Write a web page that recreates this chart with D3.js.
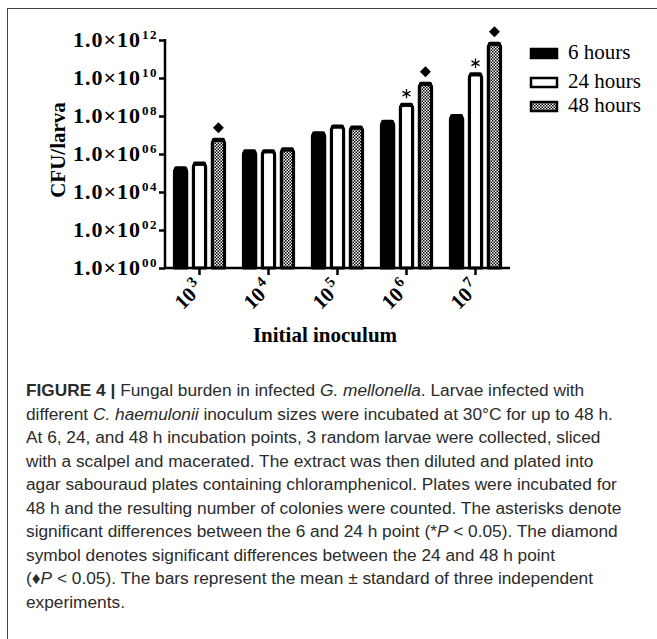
<!DOCTYPE html>
<html>
<head>
<meta charset="utf-8">
<script src="https://cdn.jsdelivr.net/npm/d3@7"></script>
<style>
  body { margin: 0; background: #fff; }
  svg { display: block; }
</style>
</head>
<body>
<script>
document.body.style.overflow = 'hidden';

// data (log10 of CFU/larva)
const inocula = ["3", "4", "5", "6", "7"];
const seriesNames = ["6 hours", "24 hours", "48 hours"];
const logCfu6h = [5.3, 6.2, 7.15, 7.75, 8.05];
const logCfu24h = [5.55, 6.2, 7.5, 8.65, 10.25];
const logCfu48h = [6.8, 6.3, 7.45, 9.75, 11.85];
const star6vs24 = [false, false, false, true, true];
const diamond24vs48 = [true, false, false, true, true];
const yTickExps = [0, 2, 4, 6, 8, 10, 12];

const captionLines = [
    [{t: "FIGURE 4 | ", b: true}, {t: "Fungal burden in infected "}, {t: "G. mellonella", i: true}, {t: ". Larvae infected with"}],
    [{t: "different "}, {t: "C. haemulonii", i: true}, {t: " inoculum sizes were incubated at 30°C for up to 48 h."}],
    [{t: "At 6, 24, and 48 h incubation points, 3 random larvae were collected, sliced"}],
    [{t: "with a scalpel and macerated. The extract was then diluted and plated into"}],
    [{t: "agar sabouraud plates containing chloramphenicol. Plates were incubated for"}],
    [{t: "48 h and the resulting number of colonies were counted. The asterisks denote"}],
    [{t: "significant differences between the 6 and 24 h point (*"}, {t: "P", i: true}, {t: " < 0.05). The diamond"}],
    [{t: "symbol denotes significant differences between the 24 and 48 h point"}],
    [{t: "(♦"}, {t: "P", i: true}, {t: " < 0.05). The bars represent the mean ± standard of three independent"}],
    [{t: "experiments."}]
];

const W = 657, H = 639;
const plot = {left: 165, right: 510, top: 40, bottom: 268};
const serif = '"Liberation Serif", "Times New Roman", serif';

const svg = d3.select("body").append("svg")
    .attr("width", W)
    .attr("height", H);

// frame
svg.append("rect")
    .attr("x", 7.5).attr("y", 8.5)
    .attr("width", 700).attr("height", 700)
    .attr("fill", "none")
    .attr("stroke", "#444")
    .attr("stroke-width", 1);

// checker fill for 48 h
const pat = svg.append("defs").append("pattern")
    .attr("id", "checker")
    .attr("patternUnits", "userSpaceOnUse")
    .attr("width", 3).attr("height", 3);
pat.append("rect").attr("width", 3).attr("height", 3).attr("fill", "#fff");
pat.append("rect").attr("width", 1.5).attr("height", 1.5).attr("fill", "#000");
pat.append("rect").attr("x", 1.5).attr("y", 1.5).attr("width", 1.5).attr("height", 1.5).attr("fill", "#000");

const fills = ["#000", "#fff", "url(#checker)"];

const items = [];
inocula.forEach((g, i) => {
    [logCfu6h, logCfu24h, logCfu48h].forEach((arr, s) => {
        items.push({group: g, series: seriesNames[s], s: s, value: Math.pow(10, arr[i]), gi: i});
    });
});

const x0 = d3.scaleBand().domain(inocula).range([plot.left, plot.right]).padding(0);
const x1 = d3.scaleBand().domain(seriesNames).range([8, x0.bandwidth() - 8]).paddingInner(0.2);
const y = d3.scaleLog().domain([1, 1e12]).range([plot.bottom, plot.top]);

// bars
function barPath(d) {
    const sw = 3;
    const x = x0(d.group) + x1(d.series) + sw / 2;
    const w = x1.bandwidth() - sw;
    const top = y(d.value) + sw / 2;
    const bot = plot.bottom;
    const r = 3;
    return "M" + x + "," + bot + "L" + x + "," + (top + r)
        + "Q" + x + "," + top + "," + (x + r) + "," + top
        + "L" + (x + w - r) + "," + top
        + "Q" + (x + w) + "," + top + "," + (x + w) + "," + (top + r)
        + "L" + (x + w) + "," + bot + "Z";
}

svg.append("g").attr("class", "bars")
    .selectAll("path").data(items).enter().append("path")
    .attr("d", barPath)
    .attr("fill", (d) => fills[d.s])
    .attr("stroke", "#000")
    .attr("stroke-width", 3.2)
    .attr("stroke-linejoin", "round");

// error caps (small domes on top)
svg.append("g").selectAll("rect").data(items).enter().append("rect")
    .attr("x", (d) => x0(d.group) + x1(d.series) + 1)
    .attr("y", (d) => y(d.value) - 1)
    .attr("width", x1.bandwidth() - 2)
    .attr("height", 4)
    .attr("rx", 2)
    .attr("fill", "#000");

// significance marks
const marks = svg.append("g").attr("class", "marks");
inocula.forEach((g, i) => {
    if (star6vs24[i]) {
        const v = Math.pow(10, logCfu24h[i]);
        marks.append("path")
            .attr("d", d3.symbol(d3.symbolAsterisk, 60)())
            .attr("transform", "translate(" + (x0(g) + x1(seriesNames[1]) + x1.bandwidth() / 2) + "," + (y(v) - 10) + ")")
            .attr("fill", "none")
            .attr("stroke", "#000")
            .attr("stroke-width", 1.3);
    }
    if (diamond24vs48[i]) {
        const v = Math.pow(10, logCfu48h[i]);
        marks.append("path")
            .attr("d", d3.symbol(d3.symbolSquare, 60)())
            .attr("transform", "translate(" + (x0(g) + x1(seriesNames[2]) + x1.bandwidth() / 2) + "," + (y(v) - 11) + ") rotate(45)")
            .attr("fill", "#000");
    }
});

// y axis
const yAxis = d3.axisLeft(y).tickValues(yTickExps.map((e) => Math.pow(10, e))).tickFormat("").tickSizeOuter(0).tickSize(6);
const yg = svg.append("g")
    .attr("transform", "translate(" + plot.left + ",0)")
    .call(yAxis);
yg.select(".domain").attr("stroke-width", 2.5).attr("d", "M0," + (plot.top - 1) + "V" + (plot.bottom + 1));
yg.selectAll(".tick line").attr("stroke-width", 2.5);

yTickExps.forEach((e) => {
    const t = svg.append("text")
        .attr("x", 158)
        .attr("y", y(Math.pow(10, e)) + 7)
        .attr("text-anchor", "end")
        .style("font-family", serif)
        .style("font-weight", "bold")
        .style("font-size", "22px");
    t.append("tspan").style("letter-spacing", "1px").text("1.0×10");
    t.append("tspan").attr("dy", -8).attr("dx", 1).style("font-size", "13px").style("letter-spacing", "1.5px").text(String(e).padStart(2, "0"));
});

// x axis
const xAxis = d3.axisBottom(x0).tickFormat("").tickSizeOuter(0).tickSize(7);
const xg = svg.append("g")
    .attr("transform", "translate(0," + plot.bottom + ")")
    .call(xAxis);
xg.select(".domain").attr("stroke-width", 2.5).attr("d", "M" + (plot.left - 1) + ",0H" + plot.right);
xg.selectAll(".tick line").attr("stroke-width", 2.5);

inocula.forEach((g) => {
    const cx = x0(g) + x0.bandwidth() / 2;
    const t = svg.append("text")
        .attr("transform", "translate(" + (cx + 5) + ",289) rotate(-45)")
        .attr("text-anchor", "end")
        .style("font-family", serif)
        .style("font-weight", "bold")
        .style("font-size", "21px");
    t.append("tspan").text("10");
    t.append("tspan").attr("dy", -9).attr("dx", 2).style("font-size", "15px").text(g);
});

// axis titles
svg.append("text")
    .attr("transform", "translate(65,150) rotate(-90)")
    .attr("text-anchor", "middle")
    .style("font-family", serif)
    .style("font-weight", "bold")
    .style("font-size", "21px")
    .text("CFU/larva");

svg.append("text")
    .attr("x", 325).attr("y", 342)
    .attr("text-anchor", "middle")
    .style("font-family", serif)
    .style("font-weight", "bold")
    .style("font-size", "21px")
    .text("Initial inoculum");

// legend
const legendY = [53, 82, 106];
const legend = svg.append("g").attr("class", "legend");
seriesNames.forEach((name, s) => {
    legend.append("rect")
        .attr("x", 531).attr("y", legendY[s] - 4)
        .attr("width", 26).attr("height", 9)
        .attr("fill", fills[s])
        .attr("stroke", "#000")
        .attr("stroke-width", 2.5);
    legend.append("text")
        .attr("x", 568).attr("y", legendY[s] + 6)
        .style("font-family", serif)
        .style("font-size", "21px")
        .text(name);
});

// caption
const caption = svg.append("g")
    .style("font-family", '"Liberation Sans", Arial, sans-serif')
    .style("font-size", "17.3px")
    .attr("fill", "#2b2b2b");
captionLines.forEach((parts, k) => {
    const t = caption.append("text").attr("x", 26).attr("y", 396 + k * 23.5);
    parts.forEach((p) => {
        t.append("tspan")
            .style("font-weight", p.b ? "bold" : null)
            .style("font-style", p.i ? "italic" : null)
            .text(p.t);
    });
});
</script>
</body>
</html>
